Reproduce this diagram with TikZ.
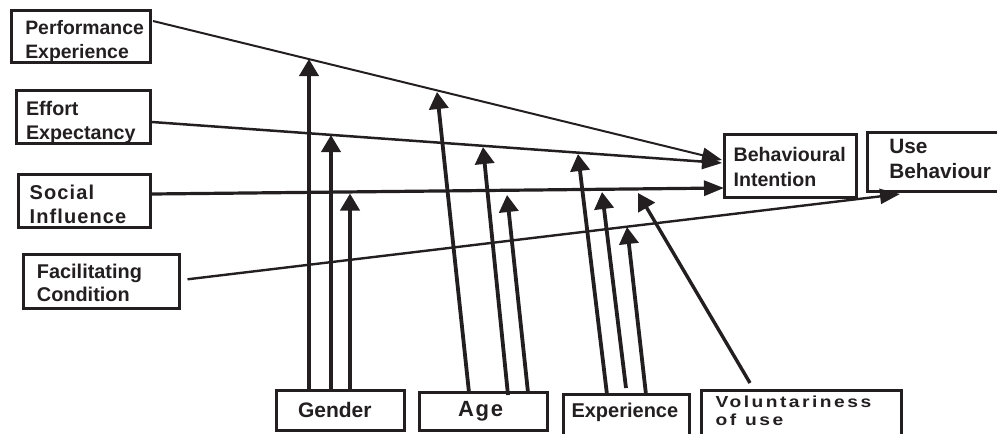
\documentclass[tikz,border=0pt]{standalone}
\usepackage{fontspec}
\usepackage{graphicx}
\setmainfont{Liberation Sans}
\usetikzlibrary{arrows.meta,calc}
\definecolor{ink}{RGB}{35,31,32}
% wide, tracked lettering for the small moderator label
\newcommand\widetext[1]{\scalebox{1.2}[1]{\addfontfeature{LetterSpace=13}#1}}
\tikzset{
  frame/.style={draw=ink, line width=3pt, inner sep=0pt, outer sep=0pt,
    align=left, text=ink, font=\bfseries\fontsize{19.7}{24}\selectfont},
  geom/.style n args={3}{minimum width=#1pt, minimum height=#2pt,
    text width=#1pt, execute at begin node={\leftskip=#3pt}},
  flow/.style={draw=ink, -{Triangle[length=20pt,width=15pt]}},
  modline/.style={draw=ink, line width=3.8pt, -{Triangle[length=17pt,width=19pt]}},
}
\begin{document}
\begin{tikzpicture}[x=1pt, y=-1pt, line join=miter]
\useasboundingbox (0,0) rectangle (997,434);
\clip (0,0) rectangle (997,434);

% determinants
\node[frame, geom={139}{52}{13.8}, text height=0pt, text depth=4.4pt,
  font=\bfseries\fontsize{19.4}{24}\selectfont]
  (pe) at (81,36.5) {Performance\\Experience};
\node[frame, geom={133.7}{52.7}{9.5}, text height=0pt, text depth=4.3pt]
  (ee) at (83.35,117.15) {Effort\\Expectancy};
\node[frame, geom={131.4}{53}{10.9}, text height=0pt, text depth=4pt,
  font=\bfseries\fontsize{20}{24}\selectfont\addfontfeature{LetterSpace=5.5}]
  (si) at (84.5,201.3) {Social\\Influence};
\node[frame, geom={156.3}{53.7}{13.7}, text height=0pt, text depth=6.7pt,
  font=\bfseries\fontsize{19.9}{23.4}\selectfont]
  (fc) at (101.35,281.65) {Facilitating\\Condition};

% outcomes
\node[frame, geom={132}{62.7}{9.4}, text height=0pt, text depth=8.9pt,
  font=\bfseries\fontsize{19.6}{24.3}\selectfont]
  (bi) at (790.2,166.15) {Behavioural\\Intention};
\node[frame, geom={142.5}{59.6}{21.8}, text height=0pt, text depth=17.4pt,
  font=\bfseries\fontsize{20.8}{25}\selectfont]
  (ub) at (938.75,162) {Use\\Behaviour};

% moderators
\node[frame, geom={128}{40}{21.5}, text height=13pt, text depth=0pt,
  font=\bfseries\fontsize{21}{24}\selectfont]
  (gender) at (340.5,410.5) {Gender};
\node[frame, geom={128}{38}{38.5}, text height=9pt, text depth=0pt,
  font=\bfseries\fontsize{22}{24}\selectfont\addfontfeature{LetterSpace=8}]
  (age) at (483.5,411.5) {Age};
\node[frame, geom={126}{55.5}{8}, text height=0pt, text depth=10.5pt,
  font=\bfseries\fontsize{20}{24}\selectfont]
  (exp) at (626.5,422.25) {Experience};
\node[frame, geom={200.3}{59.2}{14.2}, text height=0pt, text depth=25.4pt,
  font=\bfseries\fontsize{16}{17.3}\selectfont]
  (vol) at (801.65,420.4) {\widetext{Voluntariness}\\\widetext{of\hspace{2pt} use}};

% connector end points
\coordinate (pe-o) at ($(pe.east)+(2.5,-15.5)$);
\coordinate (ee-o) at ($(ee.east)+(1.8,4.85)$);
\coordinate (si-o) at ($(si.east)+(1.8,-7.3)$);
\coordinate (fc-o) at ($(fc.east)+(8,-2.35)$);
\coordinate (bi-pe) at ($(bi.west)+(-2.2,-6.15)$);
\coordinate (bi-ee) at ($(bi.west)+(-2.2,-3.15)$);
\coordinate (bi-si) at ($(bi.west)+(-0.2,21.85)$);
\coordinate (ub-fc) at ($(ub.south west)+(32.5,2.2)$);

\draw[flow, line width=2pt] (pe-o) -- (bi-pe);
\draw[flow, line width=2.5pt] (ee-o) -- (bi-ee);
\draw[flow, line width=3.2pt] (si-o) -- (bi-si);
\draw[flow, line width=2.4pt] (fc-o) -- (ub-fc);

% moderating effects
\coordinate (g1) at ($(gender.north west)+(32.5,0)$);
\coordinate (g2) at ($(gender.north west)+(54.5,0)$);
\coordinate (g3) at ($(gender.north west)+(73.5,0)$);
\coordinate (a1) at ($(age.north west)+(49.5,0)$);
\coordinate (a2) at ($(age.north west)+(88.5,2.5)$);
\coordinate (a3) at ($(age.north west)+(108.5,0)$);
\coordinate (e1) at ($(exp.north west)+(43.5,0)$);
\coordinate (e2) at ($(exp.north west)+(62.5,-6.5)$);
\coordinate (e3) at ($(exp.north west)+(82.5,0)$);
\coordinate (v1) at ($(vol.north west)+(48.5,-7.8)$);

\coordinate (g1t) at (309,59);
\coordinate (g2t) at (331,135);
\coordinate (g3t) at (350,193.5);
\coordinate (a1t) at (437,92);
\coordinate (a2t) at (483,147);
\coordinate (a3t) at (507,195);
\coordinate (e1t) at (578,154);
\coordinate (e2t) at (602,192);
\coordinate (e3t) at (627,227);
\coordinate (v1t) at (638,193);

\draw[modline] (g1) -- (g1t);
\draw[modline] (g2) -- (g2t);
\draw[modline] (g3) -- (g3t);
\draw[modline] (a1) -- (a1t);
\draw[modline] (a2) -- (a2t);
\draw[modline] (a3) -- (a3t);
\draw[modline] (e1) -- (e1t);
\draw[modline] (e2) -- (e2t);
\draw[modline] (e3) -- (e3t);
\draw[modline, line width=3.4pt] (v1) -- (v1t);
\end{tikzpicture}
\end{document}
